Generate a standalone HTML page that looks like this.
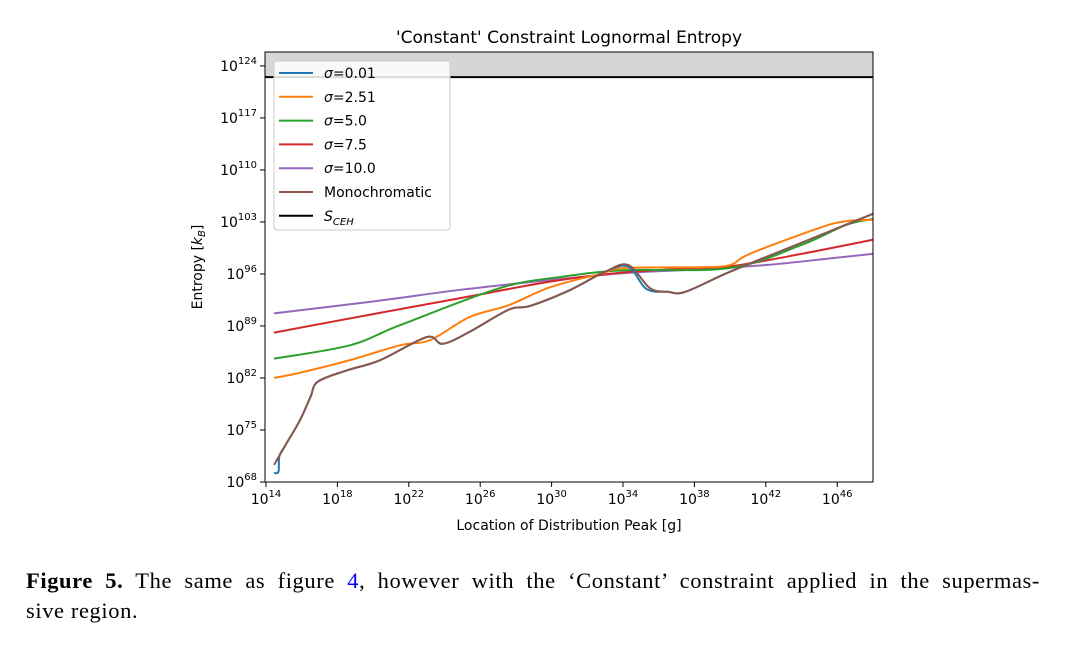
<!DOCTYPE html>
<html><head><meta charset="utf-8"><style>
body{margin:0;background:#fff;}
#wrap{position:relative;width:1080px;height:653px;overflow:hidden;background:#fff;}
svg text{font-family:"DejaVu Sans","Liberation Sans",sans-serif;}
.cap{position:absolute;left:26px;top:566px;width:1014px;font-family:"Liberation Serif",serif;font-size:22.5px;line-height:30px;color:#000;}
.l1{text-align:justify;text-align-last:justify;white-space:nowrap;display:block;letter-spacing:0.6px;}
</style></head><body>
<div id="wrap">
<svg id="chart" width="1080" height="560"></svg>
<div class="cap"><span class="l1"><b>Figure 5.</b> The same as figure <span style="color:#00f">4</span>, however with the ‘Constant’ constraint applied in the supermas-</span><span style="letter-spacing:0.6px">sive region.</span></div>
</div>
<script>
const xTicks=[14,18,22,26,30,34,38,42,46];
const yTicks=[68,75,82,89,96,103,110,117,124];
const sCEH=122.5;
const mono=[[14.45,70.3],[15.1,73],[15.9,76.3],[16.5,79.5],[16.9,81.5],[18.5,83],[20.4,84.4],[23,87.5],[23.9,86.6],[25.4,88.2],[27.6,91.2],[28.8,91.7],[31,93.8],[33,96.3],[34.3,97.2],[35.5,94.1],[36.5,93.6],[37.5,93.6],[40,96.3],[44,100.2],[48,104.1]];
const s001=[[14.45,69.2],[14.7,69.4],[14.75,71.5],[15.1,73],[15.9,76.3],[16.5,79.5],[16.9,81.5],[18.5,83],[20.4,84.4],[23,87.5],[23.9,86.6],[25.4,88.2],[27.6,91.2],[28.8,91.7],[31,93.8],[33,96.3],[34.3,97.0],[35.3,94.0],[36.5,93.6],[37.5,93.6],[40,96.3],[44,100.2],[48,104.1]];
const s251=[[14.45,82.0],[15.9,82.7],[18.7,84.4],[21.5,86.4],[23.2,87.1],[25.4,90.2],[27.6,91.8],[29.9,94.2],[32.7,96.0],[34.1,96.8],[38.3,96.9],[40,97.2],[41.1,98.7],[45,102.2],[46.5,103.1],[48,103.3]];
const s50=[[14.45,84.6],[18.7,86.4],[21.5,89.1],[27.1,94.1],[30.5,95.6],[34.1,96.5],[40,96.8],[44,99.9],[46.5,102.6],[48,103.4]];
const s75=[[14.45,88.1],[20,90.6],[25,92.8],[30,95.0],[34,96.2],[38,96.8],[40,97.0],[44,98.7],[48,100.6]];
const s10=[[14.45,90.7],[20,92.3],[25,93.9],[30,95.2],[34,96.1],[38,96.6],[42,97.2],[46,98.2],[48,98.7]];
const L=265,R=873,T=52,B=482;
const X=v=>266+(v-14)*17.85, Y=v=>482-(v-68)*7.43;
const svg=document.getElementById('chart');const NS='http://www.w3.org/2000/svg';
function mk(t,a,p){const e=document.createElementNS(NS,t);for(const k in a)e.setAttribute(k,a[k]);(p||svg).appendChild(e);return e;}
function txt(x,y,s,a,p){const e=mk('text',Object.assign({x:x,y:y},a),p);e.innerHTML=s;return e;}
const band=mk('rect',{x:L,y:T,width:R-L,height:Y(sCEH)-T,fill:'#d6d6d6'});

const clip=mk('clipPath',{id:'c'});mk('rect',{x:L,y:T,width:R-L,height:B-T},clip);
function path(d,col,name){let s='M'+X(d[0][0])+','+Y(d[0][1]);
 for(let i=0;i<d.length-1;i++){const p0=d[Math.max(0,i-1)],p1=d[i],p2=d[i+1],p3=d[Math.min(d.length-1,i+2)];
 const c1x=X(p1[0])+(X(p2[0])-X(p0[0]))/6,c1y=Y(p1[1])+(Y(p2[1])-Y(p0[1]))/6,c2x=X(p2[0])-(X(p3[0])-X(p1[0]))/6,c2y=Y(p2[1])-(Y(p3[1])-Y(p1[1]))/6;
 s+=' C'+c1x+','+c1y+' '+c2x+','+c2y+' '+X(p2[0])+','+Y(p2[1]);}
 const e=mk('path',{d:s,fill:'none',stroke:col,'stroke-width':2,'clip-path':'url(#c)'});
 }
const sl=mk('line',{x1:L,x2:R,y1:Y(sCEH),y2:Y(sCEH),stroke:'#000','stroke-width':2});

path(s10,'#9467bd','series-sigma-10');path(s75,'#d62728','series-sigma-7-5');path(s50,'#2ca02c','series-sigma-5');
path(s251,'#ff7f0e','series-sigma-2-51');path(s001,'#1f77b4','series-sigma-0-01');path(mono,'#8c564b','series-monochromatic');
const fr=mk('rect',{x:L,y:T,width:R-L,height:B-T,fill:'none',stroke:'#000','stroke-width':1});

xTicks.forEach(v=>{mk('line',{x1:X(v),x2:X(v),y1:B,y2:B+5,stroke:'#000'});
 const t=txt(X(v),B+22,'10<tspan dy="-7" font-size="10">'+v+'</tspan>',{'text-anchor':'middle','font-size':14});
 });
yTicks.forEach(v=>{mk('line',{x1:L-5,x2:L,y1:Y(v),y2:Y(v),stroke:'#000'});
 const t=txt(L-8,Y(v)+5,'10<tspan dy="-7" font-size="10">'+v+'</tspan>',{'text-anchor':'end','font-size':14});
 });
const tt=txt(569,43,"'Constant' Constraint Lognormal Entropy",{'text-anchor':'middle','font-size':17});

const xt=txt(569,530,'Location of Distribution Peak [g]',{'text-anchor':'middle','font-size':14});

const yt=txt(0,0,'Entropy [<tspan font-style="italic">k</tspan><tspan font-size="10" font-style="italic" dy="3">B</tspan><tspan dy="-3">]</tspan>',{'text-anchor':'middle','font-size':14,transform:'translate(202,267) rotate(-90)'});

const lg=mk('g',{});
mk('rect',{x:274,y:61,width:176,height:169,rx:3,fill:'#fff','fill-opacity':0.85,stroke:'#ccc'},lg);
const legendLabels=['<tspan font-style="italic">σ</tspan>=0.01','<tspan font-style="italic">σ</tspan>=2.51','<tspan font-style="italic">σ</tspan>=5.0','<tspan font-style="italic">σ</tspan>=7.5','<tspan font-style="italic">σ</tspan>=10.0','Monochromatic','<tspan font-style="italic">S</tspan><tspan font-style="italic" font-size="10" dy="4">CEH</tspan>'];
const legendCols=['#1f77b4','#ff7f0e','#2ca02c','#d62728','#9467bd','#8c564b','#000'];
legendLabels.forEach((s,i)=>{const y=73+i*23.8;
 mk('line',{x1:279,x2:313,y1:y,y2:y,stroke:legendCols[i],'stroke-width':2},lg);
 const t=txt(324,y+5,s,{'font-size':14},lg);
 });
</script>
</body></html>
